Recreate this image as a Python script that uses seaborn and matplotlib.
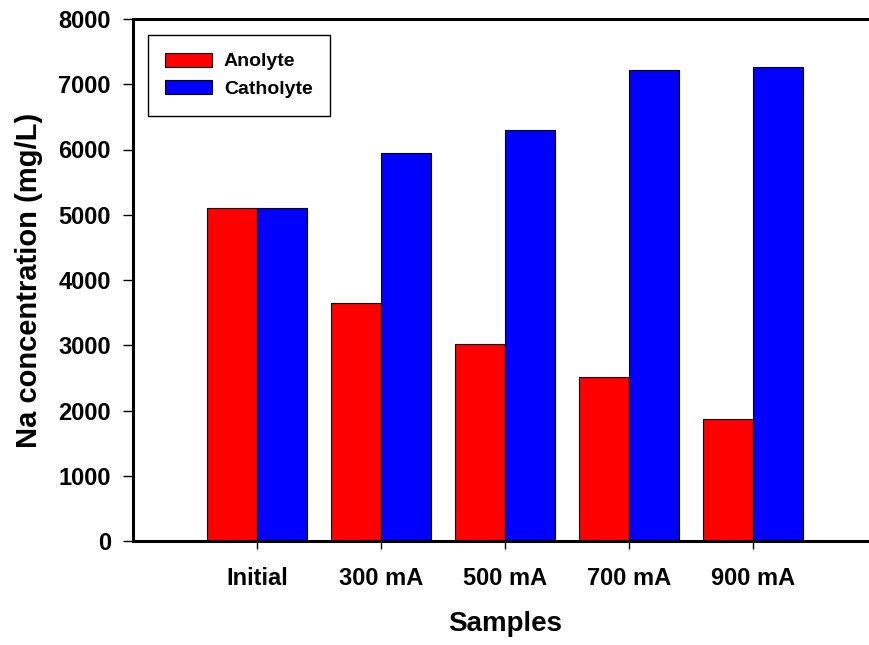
#!/usr/bin/env python3
#===============================================================================
# plot Na concentration in anolyte / catholyte
#===============================================================================

# Imports ======================================================================

import pandas as pd
import seaborn as sns
import matplotlib
matplotlib.use('Agg')
import matplotlib.pyplot as plt


# Data =========================================================================

samples = ['Initial', '300 mA', '500 mA', '700 mA', '900 mA']
anolyte = [5100, 3650, 3020, 2520, 1870]
catholyte = [5100, 5950, 6300, 7220, 7270]
series = ['Anolyte', 'Catholyte']
colors = ['#ff0000', '#0000ff']


# Functions ====================================================================

def main():
    sns.set_style('ticks')
    plt.rcParams['font.family'] = ['Liberation Sans', 'DejaVu Sans']
    plt.rcParams['font.weight'] = 'bold'
    plt.rcParams['axes.labelweight'] = 'bold'
    plt.rcParams['text.color'] = 'black'
    plt.rcParams['axes.labelcolor'] = 'black'

    df = pd.DataFrame({
        'Samples': samples * 2,
        'Na': anolyte + catholyte,
        'Solution': [series[0]] * len(samples) + [series[1]] * len(samples),
    })

    fig = plt.figure(figsize=(8.7, 6.45), dpi=100)
    ax = fig.add_axes([133 / 870, 1 - 541 / 645, 744 / 870, 522 / 645])
    sns.barplot(
        data=df, x='Samples', y='Na', hue='Solution',
        order=samples, hue_order=series, palette=colors,
        saturation=1, width=0.8, edgecolor='black', linewidth=0.8,
        errorbar=None, ax=ax
    )

    ax.set_xlim(-1, 5)
    ax.set_ylim(0, 8000)
    ax.set_yticks(range(0, 8001, 1000))

    for side in ('left', 'bottom', 'top'):
        ax.spines[side].set_linewidth(2.2)
        ax.spines[side].set_color('black')
    ax.spines['right'].set_visible(False)

    ax.tick_params(axis='y', length=7, width=1, pad=9, labelsize=17,
                   colors='black')
    ax.tick_params(axis='x', length=6, width=1, pad=13, labelsize=17,
                   colors='black')

    ax.set_xlabel('Samples', fontsize=20, labelpad=15)
    ax.set_ylabel('Na concentration (mg/L)', fontsize=21, labelpad=11)

    handles, labels = ax.get_legend_handles_labels()
    leg = ax.legend(
        handles, labels, loc='upper left',
        bbox_to_anchor=(148 / 870, 1 - 35 / 645),
        bbox_transform=fig.transFigure, borderaxespad=0,
        frameon=True, fancybox=False, framealpha=1, edgecolor='black',
        fontsize=14, handlelength=2.4, handleheight=0.75,
        handletextpad=0.6, labelspacing=0.5, borderpad=0.9
    )
    leg.get_frame().set_linewidth(1)
    for txt in leg.get_texts():
        txt.set_color('black')

    fig.savefig('out.png', dpi=100)


# Execute ======================================================================

if __name__ == '__main__':
    main()
